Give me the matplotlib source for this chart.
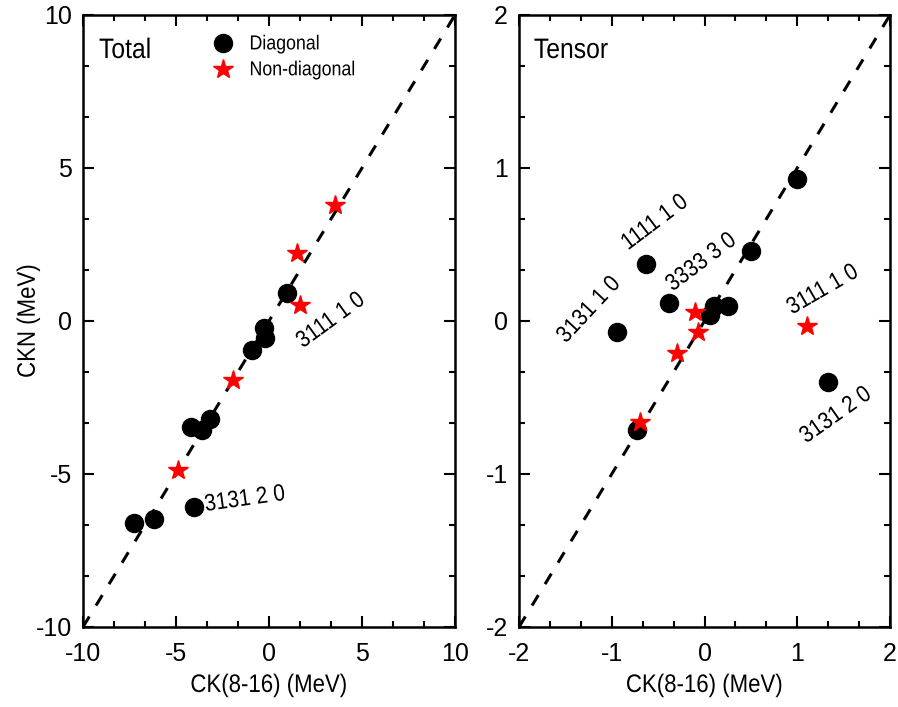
import matplotlib
matplotlib.use("Agg")
import matplotlib.pyplot as plt
from matplotlib.ticker import MultipleLocator
from matplotlib.patheffects import AbstractPathEffect
from matplotlib.transforms import Affine2D

plt.rcParams['font.family'] = ['Liberation Sans', 'DejaVu Sans']
plt.rcParams['axes.unicode_minus'] = False


class VStretch(AbstractPathEffect):
    """Stretch glyphs along their own vertical direction (narrow-font look)."""
    def __init__(self, sy=1.14):
        super().__init__()
        self.sy = sy

    def draw_path(self, renderer, gc, tpath, affine, rgbFace=None):
        renderer.draw_path(gc, tpath, Affine2D().scale(1, self.sy) + affine, rgbFace)


# Total panel
tot_diag_x = [-7.26, -6.18, -4.03, -4.19, -3.6, -3.17, -0.91, -0.22, -0.27, 0.97]
tot_diag_y = [-6.6, -6.47, -6.08, -3.46, -3.56, -3.2, -0.95, -0.56, -0.23, 0.92]
tot_nd_x = [3.55, 1.5, 1.67, -1.94, -4.89]
tot_nd_y = [3.79, 2.22, 0.52, -1.93, -4.87]
tot_labels = [("3111 1 0", 3.35, 0.0, 36), ("3131 2 0", -1.29, -5.85, 8)]

# Tensor panel
ten_diag_x = [1.0, 0.5, -0.63, -0.38, 0.10, 0.25, 0.06, -0.94, 1.33, -0.73]
ten_diag_y = [0.93, 0.46, 0.37, 0.12, 0.10, 0.10, 0.04, -0.07, -0.40, -0.71]
ten_nd_x = [-0.10, -0.07, -0.30, 1.10, -0.70]
ten_nd_y = [0.06, -0.07, -0.21, -0.03, -0.66]
ten_labels = [("1111 1 0", -0.53, 0.64, 37), ("3333 3 0", -0.03, 0.38, 37),
              ("3131 1 0", -1.24, 0.07, 47), ("3111 1 0", 1.28, 0.20, 30),
              ("3131 2 0", 1.42, -0.62, 35)]

fig = plt.figure(figsize=(8.98, 7.07), dpi=100)
axL = fig.add_axes([0.0924, 0.1132, 0.4143, 0.8656])
axR = fig.add_axes([0.578, 0.1132, 0.4131, 0.8656])
stretch = [VStretch(1.14)]


def style(ax, lim, major, minor):
    ax.set_xlim(-lim, lim)
    ax.set_ylim(-lim, lim)
    ax.xaxis.set_major_locator(MultipleLocator(major))
    ax.yaxis.set_major_locator(MultipleLocator(major))
    ax.xaxis.set_minor_locator(MultipleLocator(minor))
    ax.yaxis.set_minor_locator(MultipleLocator(minor))
    ax.tick_params(which='both', direction='in', top=True, right=True, width=1.5)
    ax.tick_params(which='major', length=8, labelsize=18)
    ax.tick_params(axis='x', which='major', pad=11)
    ax.tick_params(axis='y', which='major', pad=8)
    ax.tick_params(which='minor', length=4.5)
    for s in ax.spines.values():
        s.set_linewidth(1.8)
    ax.plot([-lim, lim], [-lim, lim], ls=(0, (4, 4.2)), color='black', lw=2.2, zorder=1)
    xl = ax.set_xlabel('CK(8-16) (MeV)', fontsize=16, labelpad=7)
    xl.set_path_effects(stretch)


style(axL, 10, 5, 5/3)
style(axR, 2, 1, 1/3)

axL.plot(tot_diag_x, tot_diag_y, 'o', color='black', ms=13, ls='none', zorder=3, label='Diagonal')
axL.plot(tot_nd_x, tot_nd_y, '*', color='red', ms=15, ls='none', zorder=4, label='Non-diagonal')
axR.plot(ten_diag_x, ten_diag_y, 'o', color='black', ms=13, ls='none', zorder=3)
axR.plot(ten_nd_x, ten_nd_y, '*', color='red', ms=15, ls='none', zorder=4)

for t, x, y, r in tot_labels:
    axL.text(x, y, t, rotation=r, ha='center', va='center', fontsize=15,
             rotation_mode='anchor', path_effects=stretch)
for t, x, y, r in ten_labels:
    axR.text(x, y, t, rotation=r, ha='center', va='center', fontsize=15,
             rotation_mode='anchor', path_effects=stretch)

axL.text(0.043, 0.9297, 'Total', transform=axL.transAxes, fontsize=17.8,
         ha='left', va='baseline', path_effects=stretch)
axR.text(0.040, 0.9297, 'Tensor', transform=axR.transAxes, fontsize=17.8,
         ha='left', va='baseline', path_effects=stretch)

yl = axL.set_ylabel('CKN (MeV)', fontsize=16, labelpad=-3)
yl.set_path_effects(stretch)

leg = axL.legend(loc='upper left', bbox_to_anchor=(0.352, 0.965), frameon=False, fontsize=12.8,
                 handletextpad=1.0, labelspacing=0.5, handlelength=1.0, borderaxespad=0,
                 borderpad=0)
for t in leg.get_texts():
    t.set_path_effects(stretch)

fig.savefig('out.png', dpi=100)
